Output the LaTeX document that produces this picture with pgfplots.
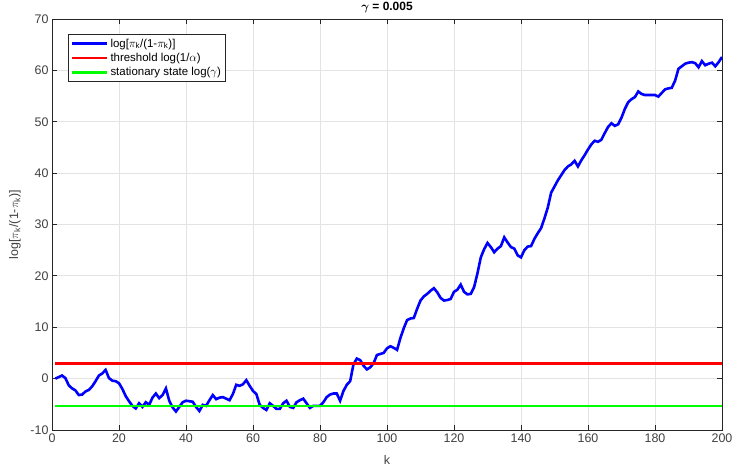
\documentclass[border=0pt]{standalone}
\usepackage{fontspec}
\setmainfont{Liberation Sans}
\usepackage{bm}
\usepackage{pgfplots}
\pgfplotsset{compat=1.18}
\definecolor{axgray}{RGB}{38,38,38}
\definecolor{ticktext}{RGB}{64,64,64}
\definecolor{lineblue}{RGB}{0,0,255}
\definecolor{linered}{RGB}{255,0,0}
\definecolor{linegreen}{RGB}{0,255,0}

\begin{document}
\begin{tikzpicture}
\useasboundingbox (0,0) rectangle (732bp,471bp);
\begin{axis}[
    at={(52bp,41bp)}, anchor=south west,
    scale only axis,
    width=670bp, height=411bp,
    xmin=0, xmax=200, ymin=-10, ymax=70,
    xtick={0,20,...,200}, ytick={-10,0,...,70},
    grid=major,
    major grid style={color=gray!22, line width=0.8bp},
    axis line style={color=axgray, line width=0.8bp},
    tick style={color=axgray, line width=0.8bp},
    tick align=inside,
    major tick length=5bp,
    ticklabel style={font=\fontsize{12.5}{14}\selectfont, color=ticktext},
    /pgf/number format/assume math mode=true,
    every axis title shift=0pt,
    title={\textbf{$\bm{\gamma}$ = 0.005}},
    title style={at={(axis description cs:0.5,1.0195)}, anchor=base, inner sep=0pt, font=\fontsize{12}{14}\selectfont},
    xlabel={k},
    xlabel style={at={(axis description cs:0.5,-0.073)}, anchor=center, font=\fontsize{12.5}{14}\selectfont, color=ticktext},
    ylabel={log[$\pi_{\mathrm{k}}$/(1-$\pi_{\mathrm{k}}$)]},
    ylabel style={at={(axis description cs:-0.0552,0.5)}, anchor=center, font=\fontsize{12.5}{14}\selectfont, color=ticktext},
    legend style={at={(axis description cs:0.0239,0.9635)}, anchor=north west,
        draw=axgray, line width=0.8bp, font=\fontsize{11.5}{14}\selectfont,
        inner sep=2.5bp, row sep=0.5bp, cells={anchor=west}},
    legend cell align=left,
    legend image code/.code={\draw[#1, line width=2.6bp] (0bp,0bp) -- (35bp,0bp);},
]
\addplot[lineblue, line width=2.6bp] coordinates {
(1,0.0)(2,0.3)(3,0.6)(4,0.1)(5,-1.3)(6,-1.9)(7,-2.3)(8,-3.2)(9,-3.1)(10,-2.5)
(11,-2.2)(12,-1.5)(13,-0.5)(14,0.6)(15,1.0)(16,1.7)(17,0.1)(18,-0.4)(19,-0.5)(20,-0.9)
(21,-2.0)(22,-3.4)(23,-4.4)(24,-5.3)(25,-5.8)(26,-4.8)(27,-5.5)(28,-4.6)(29,-5.1)(30,-3.7)
(31,-2.9)(32,-3.8)(33,-3.2)(34,-1.9)(35,-4.3)(36,-5.6)(37,-6.4)(38,-5.5)(39,-4.6)(40,-4.3)
(41,-4.4)(42,-4.5)(43,-5.5)(44,-6.3)(45,-5.1)(46,-5.3)(47,-4.2)(48,-3.2)(49,-4.0)(50,-3.7)
(51,-3.6)(52,-3.9)(53,-4.2)(54,-3.0)(55,-1.2)(56,-1.4)(57,-1.1)(58,-0.3)(59,-1.4)(60,-2.4)
(61,-3.0)(62,-5.1)(63,-5.7)(64,-6.1)(65,-4.8)(66,-5.3)(67,-5.9)(68,-5.9)(69,-4.8)(70,-4.3)
(71,-5.5)(72,-5.7)(73,-4.6)(74,-4.2)(75,-3.9)(76,-4.8)(77,-5.7)(78,-5.3)(79,-5.3)(80,-5.3)
(81,-4.6)(82,-3.6)(83,-3.1)(84,-2.9)(85,-2.9)(86,-4.3)(87,-2.4)(88,-1.2)(89,-0.5)(90,2.8)
(91,3.9)(92,3.6)(93,2.5)(94,1.8)(95,2.2)(96,3.0)(97,4.6)(98,4.8)(99,5.0)(100,5.9)
(101,6.3)(102,6.0)(103,5.6)(104,7.9)(105,9.8)(106,11.4)(107,11.7)(108,11.8)(109,13.6)(110,15.2)
(111,16.0)(112,16.5)(113,17.1)(114,17.6)(115,16.8)(116,15.7)(117,15.2)(118,15.3)(119,15.5)(120,16.9)
(121,17.3)(122,18.3)(123,16.9)(124,16.4)(125,16.5)(126,17.8)(127,20.5)(128,23.6)(129,25.2)(130,26.4)
(131,25.6)(132,24.6)(133,25.3)(134,25.8)(135,27.5)(136,26.5)(137,25.6)(138,25.3)(139,24.0)(140,23.6)
(141,25.0)(142,25.7)(143,25.8)(144,27.2)(145,28.3)(146,29.3)(147,31.2)(148,33.3)(149,36.2)(150,37.4)
(151,38.6)(152,39.6)(153,40.6)(154,41.3)(155,41.7)(156,42.4)(157,41.3)(158,42.5)(159,43.5)(160,44.6)
(161,45.6)(162,46.3)(163,46.1)(164,46.5)(165,47.8)(166,49.0)(167,49.7)(168,49.2)(169,49.5)(170,50.8)
(171,52.5)(172,53.8)(173,54.4)(174,54.8)(175,55.9)(176,55.4)(177,55.2)(178,55.2)(179,55.2)(180,55.2)
(181,54.9)(182,55.6)(183,56.3)(184,56.5)(185,56.6)(186,58.0)(187,60.3)(188,60.8)(189,61.3)(190,61.5)
(191,61.6)(192,61.4)(193,60.6)(194,61.8)(195,61.0)(196,61.3)(197,61.5)(198,60.8)(199,61.6)(200,62.6)
};
\addlegendentry{log[$\pi_{\mathrm{k}}$/(1-$\pi_{\mathrm{k}}$)]}
\addplot[linered, line width=2.6bp] coordinates {(1,2.996)(200,2.996)};
\addlegendentry{threshold log(1/$\alpha$)}
\addplot[linegreen, line width=2.6bp] coordinates {(1,-5.298)(200,-5.298)};
\addlegendentry{stationary state log($\gamma$)}
\end{axis}
\end{tikzpicture}
\end{document}
